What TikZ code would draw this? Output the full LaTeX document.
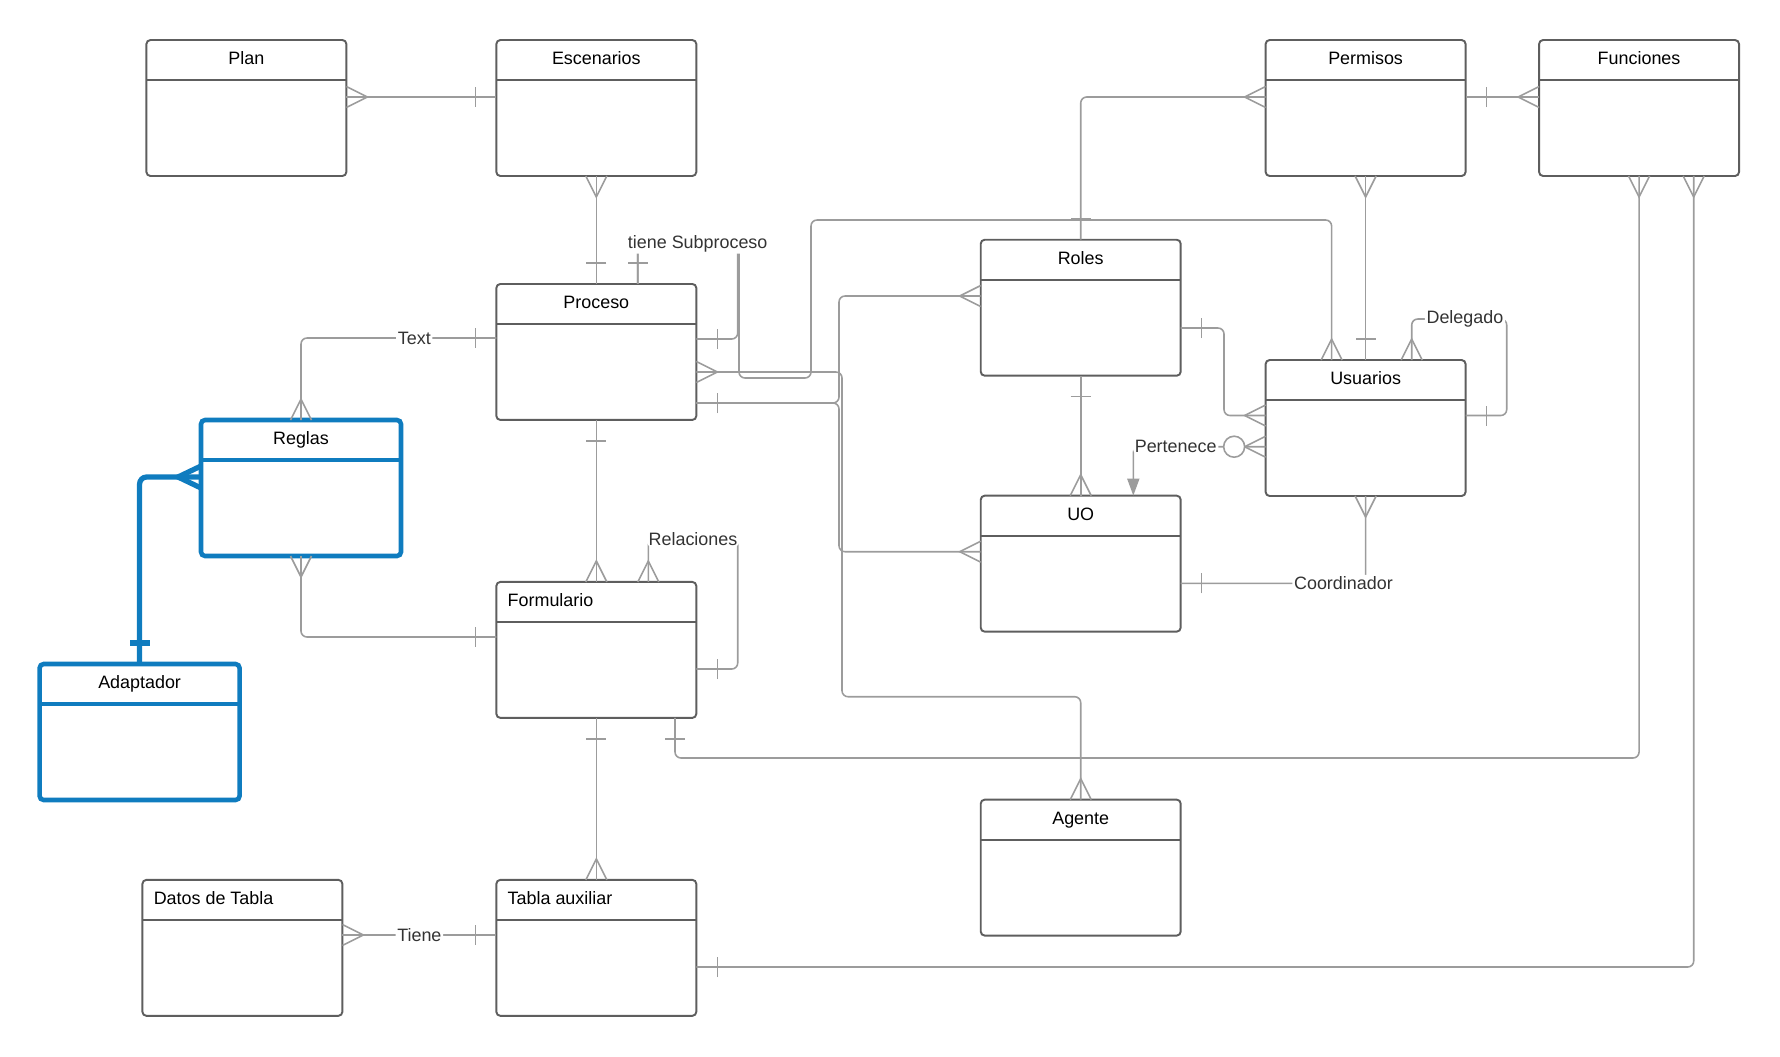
\documentclass[tikz,border=0pt]{standalone}
\usepackage{fontspec}
\setmainfont{Liberation Sans}
\usepackage{tikz}
\usepackage{xcolor}
\usetikzlibrary{arrows.meta, positioning}
\definecolor{boxgrey}{HTML}{5E5E5E}
\definecolor{linegrey}{HTML}{9C9C9C}
\definecolor{labelgrey}{HTML}{333333}
\definecolor{accent}{HTML}{0F7CBF}
\newcommand{\erfont}{\fontsize{10.2pt}{12pt}\selectfont}

\pgfdeclarearrow{
  name = crowOne,
  defaults = {length = 0.42cm, width = 0.4cm},
  parameters = {\the\pgfarrowlength,\the\pgfarrowwidth},
  setup code = {
    \pgfarrowssettipend{0pt}
    \pgfarrowssetlineend{0pt}
    \pgfarrowssetbackend{-\pgfarrowlength}
    \pgfarrowssavethe\pgfarrowlength
    \pgfarrowssavethe\pgfarrowwidth
  },
  drawing code = {
    \pgfpathmoveto{\pgfqpoint{-\pgfarrowlength}{.5\pgfarrowwidth}}
    \pgfpathlineto{\pgfqpoint{-\pgfarrowlength}{-.5\pgfarrowwidth}}
    \pgfusepathqstroke
  }
}
\pgfdeclarearrow{
  name = crowMany,
  defaults = {length = 0.42cm, width = 0.42cm},
  parameters = {\the\pgfarrowlength,\the\pgfarrowwidth},
  setup code = {
    \pgfarrowssettipend{0pt}
    \pgfarrowssetlineend{0pt}
    \pgfarrowssetbackend{-\pgfarrowlength}
    \pgfarrowssavethe\pgfarrowlength
    \pgfarrowssavethe\pgfarrowwidth
  },
  drawing code = {
    \pgfsetcornersarced{\pgfpointorigin}
    \pgfpathmoveto{\pgfqpoint{0pt}{.5\pgfarrowwidth}}
    \pgfpathlineto{\pgfqpoint{-\pgfarrowlength}{0pt}}
    \pgfpathlineto{\pgfqpoint{0pt}{-.5\pgfarrowwidth}}
    \pgfusepathqstroke
  }
}
\pgfdeclarearrow{
  name = crowZeroMany,
  defaults = {length = 0.42cm, width = 0.42cm},
  parameters = {\the\pgfarrowlength,\the\pgfarrowwidth},
  setup code = {
    \pgfarrowssettipend{0pt}
    \pgfarrowssetlineend{0pt}
    \pgfarrowssetbackend{-\pgfarrowlength}
    \pgfarrowssavethe\pgfarrowlength
    \pgfarrowssavethe\pgfarrowwidth
  },
  drawing code = {
    \pgfsetcornersarced{\pgfpointorigin}
    \pgfpathmoveto{\pgfqpoint{0pt}{.5\pgfarrowwidth}}
    \pgfpathlineto{\pgfqpoint{-\pgfarrowlength}{0pt}}
    \pgfpathlineto{\pgfqpoint{0pt}{-.5\pgfarrowwidth}}
    \pgfusepathqstroke
    \pgfpathcircle{\pgfpoint{-\pgfarrowlength-.5\pgfarrowwidth}{0pt}}{.5\pgfarrowwidth}
    \pgfsetfillcolor{white}
    \pgfusepathqfillstroke
  }
}

\tikzset{
  entity/.style = {rectangle, draw=boxgrey, line width=1.1pt, rounded corners=0.08cm,
    fill=white, minimum width=4cm, minimum height=2.72cm, inner sep=0pt, outer sep=0pt,
    path picture={\draw[boxgrey, line width=1.1pt]
      ([yshift=-0.8cm]path picture bounding box.north west) --
      ([yshift=-0.8cm]path picture bounding box.north east);}},
  entityBlue/.style = {entity, draw=accent, line width=2.6pt,
    path picture={\draw[accent, line width=2.6pt]
      ([yshift=-0.8cm]path picture bounding box.north west) --
      ([yshift=-0.8cm]path picture bounding box.north east);}},
  titleMid/.style = {anchor=base, yshift=-0.49cm, inner sep=0pt, font=\erfont, text=black},
  titleLeft/.style = {anchor=base west, yshift=-0.49cm, xshift=0.22cm, inner sep=0pt,
    font=\erfont, text=black},
  rel/.style = {draw=linegrey, line width=0.9pt, rounded corners=0.12cm},
  relBlue/.style = {draw=accent, line width=3pt, rounded corners=0.14cm},
  lbl/.style = {fill=white, inner sep=1pt, text=labelgrey, font=\erfont},
}

\begin{document}
\begin{tikzpicture}[x=0.02cm, y=-0.02cm]
\useasboundingbox (0,0) rectangle (1780,1056);

\node[entity, label={[titleMid]north:Plan}] (plan) at (246.4,108) {};
\node[entity, right=3cm of plan, label={[titleMid]north:Escenarios}] (escenarios) {};
\node[entity, below=2.16cm of escenarios, label={[titleMid]north:Proceso}] (proceso) {};
\node[entity, below=3.24cm of proceso, label={[titleLeft]north west:Formulario}] (formulario) {};
\node[entity, below=3.24cm of formulario, label={[titleLeft]north west:Tabla auxiliar}] (tabla) {};
\node[entity, left=3.08cm of tabla, label={[titleLeft]north west:Datos de Tabla}] (datos) {};
\node[entity, label={[titleMid]north:Permisos}] (permisos) at (1365.6,108) {};
\node[entity, right=1.47cm of permisos, label={[titleMid]north:Funciones}] (funciones) {};
\node[entity, label={[titleMid]north:Roles}] (roles) at (1080.7,307.7) {};
\node[entity, below=2.4cm of roles, label={[titleMid]north:UO}] (uo) {};
\node[entity, below=3.36cm of uo, label={[titleMid]north:Agente}] (agente) {};
\node[entity, label={[titleMid]north:Usuarios}] (usuarios) at (1365.6,428) {};
\node[entityBlue, label={[titleMid]north:Reglas}] (reglas) at (301,488) {};
\node[entityBlue, label={[titleMid]north:Adaptador}] (adaptador) at (139.6,732) {};

\draw[rel, {crowMany}-{crowOne}] (plan.east |- 0,97) -- (escenarios.west |- 0,97);
\draw[rel, {crowMany}-{crowOne}] (escenarios.south) -- (proceso.north);
\draw[rel, {crowOne}-{crowMany}] (proceso.north -| 637.7,0) |- (739,240) |- (811,378) |- (1331.6,220) -- (usuarios.north -| 1331.6,0);
\draw[rel, {crowOne}-{crowOne}] (proceso.north -| 637.7,0) |- node[lbl, pos=0.8, yshift=-2pt] (lblSub) {tiene Subproceso} (737.7,240) |- (proceso.east |- 0,339);
\draw[rel, {crowOne}-{crowMany}] (proceso.west |- 0,338) -| node[lbl, pos=0.21] (lblText) {Text} (reglas.north);
\draw[rel, {crowMany}-{crowOne}] (reglas.south) |- (formulario.west |- 0,637);
\draw[relBlue, {crowOne}-{crowMany[length=0.46cm, width=0.44cm]}] (adaptador.north) |- (reglas.west |- 0,477);
\draw[rel, {crowOne}-{crowMany}] (proceso.south) -- (formulario.north);
\draw[rel, {crowMany}-{crowOne}] (formulario.north -| 648.3,0) |- node[lbl, pos=0.75] (lblRel) {Relaciones} (737.7,539) |- (formulario.east |- 0,669);
\draw[rel, {crowOne}-{crowMany}] (formulario.south) -- (tabla.north);
\draw[rel, {crowMany}-{crowOne}] (datos.east |- 0,935) -- node[lbl] (lblTiene) {Tiene} (tabla.west |- 0,935);
\draw[rel, {crowOne}-{crowMany}] (formulario.south -| 675,0) |- (funciones.south |- 0,758) -- (funciones.south);
\draw[rel, {crowOne}-{crowMany}] (tabla.east |- 0,967) -| (funciones.south -| 1693.7,0);
\draw[rel, {crowOne}-{crowMany}] (roles.north) |- (permisos.west |- 0,97);
\draw[rel, {crowOne}-{crowMany}] (permisos.east |- 0,97) -- (funciones.west |- 0,97);
\draw[rel, {crowOne}-{crowMany}] (usuarios.north) -- (permisos.south);
\draw[rel, {crowOne}-{crowMany}] (roles.east |- 0,328) -| (1224,415.5) -- (usuarios.west |- 0,415.5);
\draw[rel, {crowOne}-{crowMany}] (roles.south) -- (uo.north);
\draw[rel, {crowZeroMany}-{Triangle[length=0.34cm, width=0.24cm]}] (usuarios.west |- 0,446.7) -| node[lbl, pos=0.34] (lblPer) {Pertenece} (uo.north -| 1133.3,0);
\draw[rel, {crowOne}-{crowMany}] (uo.east |- 0,583.3) -| node[lbl, pos=0.44] (lblCoord) {Coordinador} (usuarios.south);
\draw[rel, {crowMany}-{crowOne}] (usuarios.north -| 1411.7,0) |- node[lbl, pos=0.78] (lblDel) {Delegado} (1506.7,319) |- (usuarios.east |- 0,415.5);
\draw[rel, {crowOne}-{crowMany}] (proceso.east |- 0,403) -| (839,296) -- (roles.west |- 0,296);
\draw[rel, {crowOne}-{crowMany}] (proceso.east |- 0,403) -| (839,551.7) -- (uo.west |- 0,551.7);
\draw[rel, {crowMany}-{crowMany}] (proceso.east |- 0,372) -| (842,696.7) -| (agente.north);

\end{tikzpicture}
\end{document}
